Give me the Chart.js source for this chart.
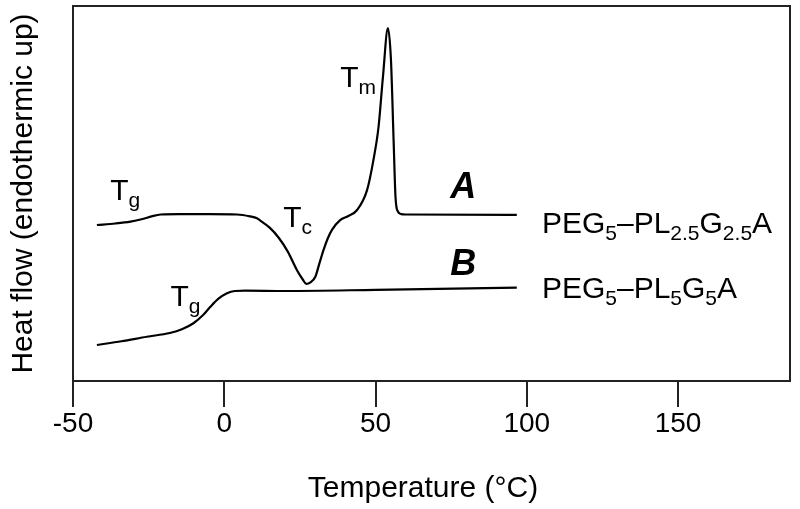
<!DOCTYPE html>
<html>
<head>
<meta charset="utf-8">
<script src="https://cdn.jsdelivr.net/npm/chart.js@4/dist/chart.umd.min.js"></script>
<style>
  html, body { margin: 0; padding: 0; background: #fff; }
  #wrap { width: 800px; height: 509px; }
</style>
</head>
<body>
<div id="wrap"><canvas id="c" width="800" height="509"></canvas></div>
<script>
// ---- data ----
const tempA = [-42.1, -36, -31, -27, -24, -21, -15, -5, 4.2, 8.5, 10.8, 12, 15, 18, 21, 24, 26, 27.1, 28.5, 30.1, 31.5, 32.8, 34.2, 35.6, 38.3, 41, 43.9, 47.2, 49.3, 51.0, 52.45, 54.1, 55.1, 56.0, 56.6, 57.4, 58.5, 60, 96.7];
const flowA = [41.6, 42.0, 42.5, 43.2, 43.9, 44.4, 44.5, 44.5, 44.4, 43.9, 43.4, 42.7, 40.9, 38.2, 34.5, 29.6, 27.0, 25.9, 26.3, 27.8, 31.5, 34.9, 38.0, 40.3, 42.9, 44.0, 45.6, 50.9, 58.9, 67.8, 81.1, 94.1, 85.6, 63.5, 49.1, 45.2, 44.5, 44.4, 44.3];
const tempB = [-42.1, -34, -25.6, -18, -14, -10.2, -7, -4.6, -2, 0.9, 3.5, 7, 20, 50, 96.7];
const flowB = [9.6, 10.6, 11.8, 12.8, 13.8, 15.4, 17.6, 19.8, 21.9, 23.4, 24.0, 24.1, 24.0, 24.3, 24.9];
const xTicks = [-50, 0, 50, 100, 150];
const xTitle = 'Temperature (°C)';
const yTitle = 'Heat flow (endothermic up)';
const seriesNames = ['PEG5–PL2.5G2.5A', 'PEG5–PL5G5A'];

// annotation labels (text runs; sub = subscript), anchored in data coordinates
const annotations = [
  { x: -37.7, y: 48.4, runs: [{ t: 'T' }, { t: 'g', sub: true }] },
  { x: 19.5, y: 41.2, runs: [{ t: 'T' }, { t: 'c', sub: true }] },
  { x: 38.3, y: 78.5, runs: [{ t: 'T' }, { t: 'm', sub: true }] },
  { x: -17.8, y: 19.9, runs: [{ t: 'T' }, { t: 'g', sub: true }] },
  { x: 74.7, y: 48.8, bold: true, runs: [{ t: 'A' }] },
  { x: 74.7, y: 28.3, bold: true, runs: [{ t: 'B' }] },
  { x: 105.0, y: 39.5, runs: [{ t: 'PEG' }, { t: '5', sub: true }, { t: '–PL' }, { t: '2.5', sub: true }, { t: 'G' }, { t: '2.5', sub: true }, { t: 'A' }] },
  { x: 105.0, y: 22.1, runs: [{ t: 'PEG' }, { t: '5', sub: true }, { t: '–PL' }, { t: '5', sub: true }, { t: 'G' }, { t: '5', sub: true }, { t: 'A' }] }
];

const FONT = '"Liberation Sans", Arial, Helvetica, sans-serif';

const toPts = (xs, ys) => xs.map((x, i) => ({ x: x, y: ys[i] }));

const decorPlugin = {
  id: 'decor',
  afterDraw(chart) {
    const ctx = chart.ctx;
    const a = chart.chartArea;
    const xs = chart.scales.x, ys = chart.scales.y;
    ctx.save();
    // frame
    ctx.strokeStyle = '#222';
    ctx.lineWidth = 2;
    ctx.strokeRect(a.left, a.top, a.right - a.left, a.bottom - a.top);
    // annotations
    ctx.fillStyle = '#000';
    ctx.textBaseline = 'alphabetic';
    ctx.textAlign = 'left';
    annotations.forEach(an => {
      let px = xs.getPixelForValue(an.x);
      const py = ys.getPixelForValue(an.y);
      an.runs.forEach(r => {
        if (an.bold) ctx.font = 'italic bold 36px ' + FONT;
        else ctx.font = (r.sub ? '21px ' : '30px ') + FONT;
        ctx.fillText(r.t, px, py + (r.sub ? 7 : 0));
        px += ctx.measureText(r.t).width;
      });
    });
    // x axis title
    ctx.font = '30px ' + FONT;
    ctx.textAlign = 'center';
    ctx.fillText(xTitle, 423, 497);
    ctx.restore();
  }
};

new Chart(document.getElementById('c'), {
  type: 'line',
  data: {
    datasets: [
      { label: seriesNames[0], data: toPts(tempA, flowA), borderColor: '#000', borderWidth: 2.2, pointRadius: 0, cubicInterpolationMode: 'monotone', fill: false },
      { label: seriesNames[1], data: toPts(tempB, flowB), borderColor: '#000', borderWidth: 2.2, pointRadius: 0, cubicInterpolationMode: 'monotone', fill: false }
    ]
  },
  options: {
    responsive: false,
    animation: false,
    layout: { padding: { top: 6, right: 10, left: 0, bottom: 0 } },
    plugins: { legend: { display: false }, tooltip: { enabled: false } },
    scales: {
      x: {
        type: 'linear',
        min: -50,
        max: 187,
        afterBuildTicks: s => { s.ticks = xTicks.map(v => ({ value: v })); },
        afterFit: s => { s.height = 128; },
        border: { display: false },
        grid: { display: true, drawOnChartArea: false, drawTicks: true, tickLength: 26, color: '#222', lineWidth: 2 },
        ticks: { color: '#000', font: { family: FONT, size: 28 }, padding: 0, maxRotation: 0 },
        title: { display: false }
      },
      y: {
        min: 0,
        max: 100,
        afterFit: s => { s.width = 73; },
        border: { display: false },
        grid: { display: false },
        ticks: { display: false },
        title: { display: true, text: yTitle, color: '#000', font: { family: FONT, size: 30 }, padding: { top: 6, bottom: 0 } }
      }
    }
  },
  plugins: [decorPlugin]
});
</script>
</body>
</html>
